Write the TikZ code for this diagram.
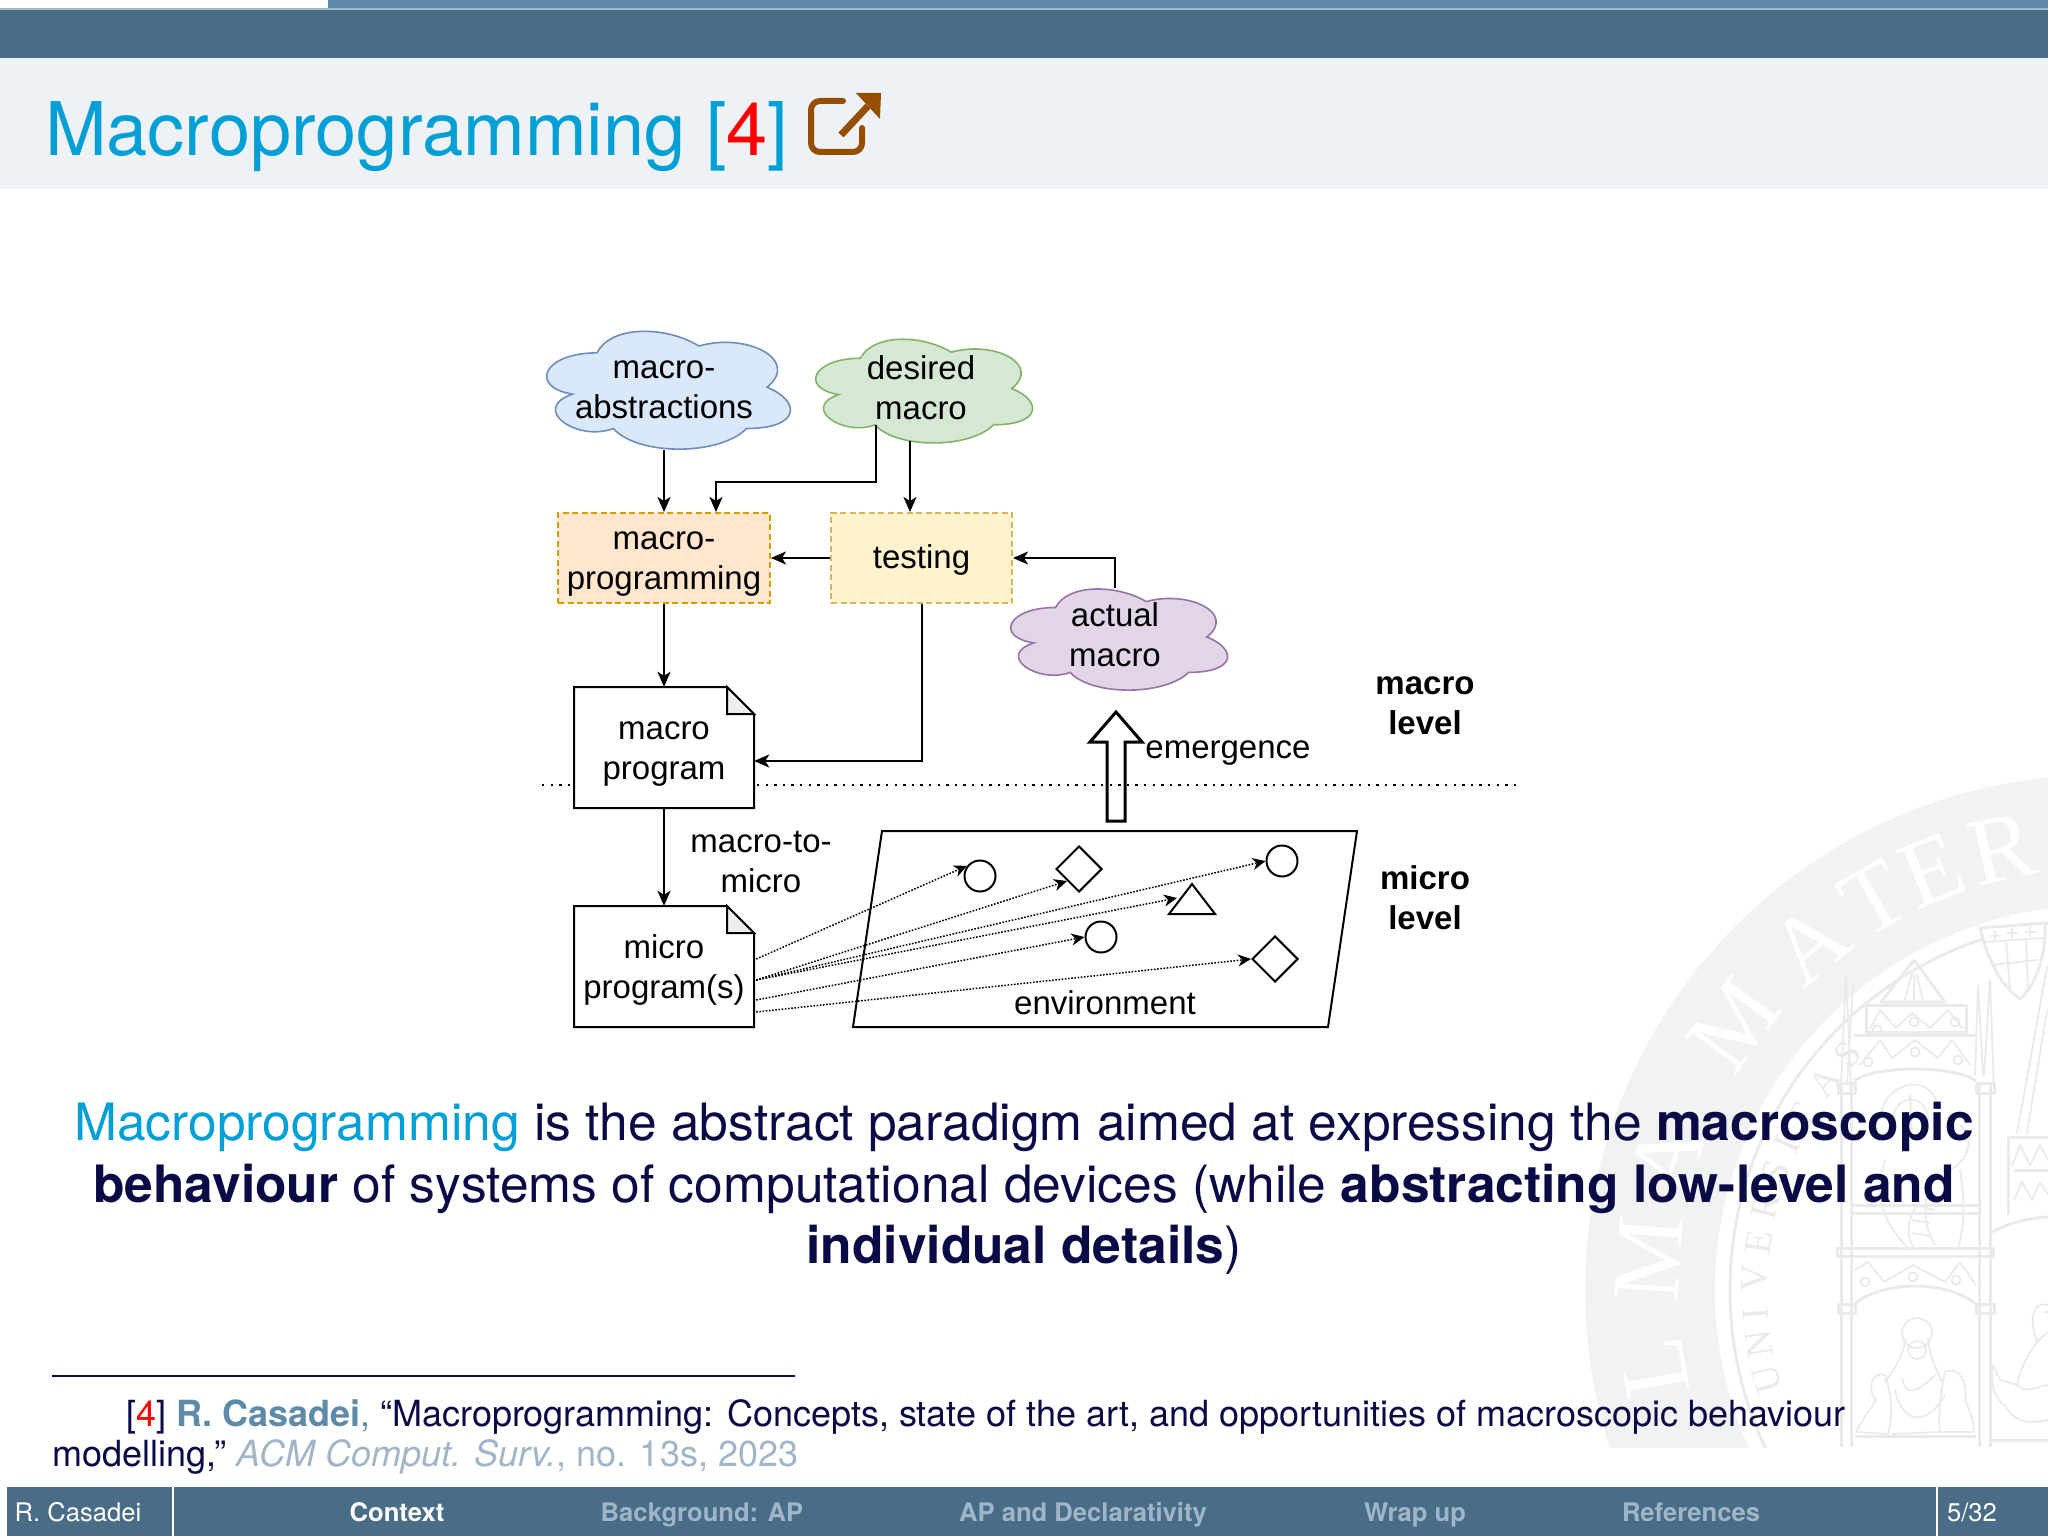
\documentclass[tikz,border=0pt]{standalone}
\usepackage{fontspec}
\setmainfont{TeX Gyre Heros}
\newfontfamily\dio{Liberation Sans}
\newfontfamily\sealf{Liberation Serif}
\usetikzlibrary{arrows.meta,calc,shapes.geometric}
\definecolor{barDark}{HTML}{4A6D87}
\definecolor{barLight}{HTML}{5F8AAB}
\definecolor{titleBg}{HTML}{EEF2F6}
\definecolor{titleBlue}{HTML}{00A0D6}
\definecolor{navy}{HTML}{0A0A46}
\definecolor{authorBlue}{HTML}{5D8AA8}
\definecolor{paleBlue}{HTML}{A0B6C8}
\definecolor{iconBrown}{HTML}{964F00}
\definecolor{sealBand}{HTML}{F1F2F2}
\definecolor{sealLine}{HTML}{E9EAEA}
\definecolor{cloudBlueF}{HTML}{DAE8FC}\definecolor{cloudBlueD}{HTML}{6C8EBF}
\definecolor{cloudGreenF}{HTML}{D5E8D4}\definecolor{cloudGreenD}{HTML}{82B366}
\definecolor{cloudPurpF}{HTML}{E1D5E7}\definecolor{cloudPurpD}{HTML}{9673A6}
\definecolor{boxOrF}{HTML}{FFE6CC}\definecolor{boxOrD}{HTML}{D79B00}
\definecolor{boxYeF}{HTML}{FFF2CC}\definecolor{boxYeD}{HTML}{D6B656}
\tikzset{
  x=1pt,y=-1pt,
  lbl/.style={font=\dio\fontsize{33}{40}\selectfont,align=center,inner sep=0pt,text=black},
  lblb/.style={lbl,font=\dio\bfseries\fontsize{33}{40}\selectfont},
  wire/.style={draw=black,line width=2pt,-{Stealth[length=15pt,width=13pt,inset=4pt]}},
  dotwire/.style={draw=black,line width=1.5pt,dash pattern=on 1.6pt off 1.6pt,-{Stealth[length=13pt,width=12pt,inset=4pt]}},
  shp/.style={draw=black,line width=2pt,fill=white},
  dashbox/.style={inner sep=0pt,line width=2pt,dash pattern=on 6pt off 3.5pt,minimum height=90pt},
  nav/.style={font=\bfseries\fontsize{25.6}{30}\selectfont,anchor=base,inner sep=0pt,text=paleBlue},
  navr/.style={nav,font=\fontsize{25.6}{30}\selectfont,text=white},
  foot/.style={font=\fontsize{36}{41}\selectfont,anchor=base west,inner sep=0pt,text=navy},
  body/.style={font=\fontsize{51.5}{61}\selectfont,anchor=base,inner sep=0pt,text=navy},
  sl/.style={draw=sealLine,line width=3pt,line join=round},
  st/.style={draw=sealLine,line width=1.8pt,line join=round,line cap=round},
}
\newcommand\dcloud[6]{%
  \begin{scope}[shift={(#1,#2)},x=#3pt,y=-#4pt]
  \draw[fill=#5,draw=#6,line width=1.6pt]
   (0.25,0.25) .. controls (0.05,0.25) and (0,0.5) .. (0.16,0.55)
   .. controls (0,0.66) and (0.18,0.9) .. (0.31,0.8)
   .. controls (0.4,1) and (0.7,1) .. (0.8,0.8)
   .. controls (1,0.8) and (1,0.6) .. (0.875,0.5)
   .. controls (1,0.3) and (0.8,0.1) .. (0.625,0.2)
   .. controls (0.5,0.05) and (0.3,0.05) .. (0.25,0.25) -- cycle;
  \end{scope}}
\newcommand\docshape[2]{%
  \draw[shp,line join=miter] (#1,#2) -- (#1+153,#2) -- (#1+180,#2+27) -- (#1+180,#2+121) -- (#1,#2+121) -- cycle;
  \draw[shp,fill=black!7,line join=miter] (#1+153,#2) -- (#1+180,#2+27) -- (#1+153,#2+27) -- cycle;}
\begin{document}
\begin{tikzpicture}
\useasboundingbox (0,0) rectangle (2048,1536);
\fill[white] (0,0) rectangle (2048,1536);
% ---------- seal watermark
\begin{scope}
\clip (1500,700) rectangle (2048,1447);
\fill[sealBand,even odd rule] (2100,1290) circle[radius=515] (2100,1290) circle[radius=385];
\draw[sealLine,line width=3pt] (2100,1290) circle[radius=370];
\foreach \a/\c in {12.5/R,21.8/E,30/T,40/A,54/M,73/A,86/M,100/L}
  \node[text=white,font=\sealf\fontsize{96}{96}\selectfont,rotate=\a,inner sep=0pt] at ({2100-452*sin(\a)},{1290-452*cos(\a)}) {\c};
\foreach \a/\c in {105/U,99/N,94/I,88/V,82/E,76/R,70/S,65/I,60/T,53/A,47/S}
  \node[text=sealLine,font=\sealf\fontsize{38}{38}\selectfont,rotate=\a,inner sep=0pt] at ({2100-345*sin(\a)},{1290-345*cos(\a)}) {\c};
% shield
\draw[sl,fill=white] (1980,928) -- (2045,923) .. controls (2046,960) and (2035,985) .. (2020,999) .. controls (2000,985) and (1988,960) .. (1980,928) -- cycle;
\draw[st] (1985,942) -- (2043,938) (1992,965) -- (2037,960) (2006,940) -- (2010,990) (2026,938) -- (2028,990);
\draw[st] (1990,936)--(2000,936) (1995,931)--(1995,941) (2007,933)--(2017,933) (2012,928)--(2012,938) (2025,932)--(2035,932) (2030,927)--(2030,937);
% left and right columns
\draw[sl] (1841,1085) -- (1841,1447) (1851,1085) -- (1851,1447) (1979,1085) -- (1979,1447) (1990,1085) -- (1990,1447);
\draw[st] (1841,1085) -- (1846,975) -- (1851,1085) (1847,1085) -- (1853,985);
\draw[st] (1975,1075) -- (1978,985) -- (1983,1075) (1984,1075) -- (1990,980) -- (1994,1090);
\draw[sl] (1838,1083) rectangle (1855,1093) (1976,1083) rectangle (1994,1093);
\draw[sl] (1838,1304) rectangle (1855,1313) (1976,1304) rectangle (1994,1313);
\draw[sl] (1837,1248) rectangle (1993,1256);
\draw[sl] (1852,1205) -- (1978,1205) (1852,1213) -- (1978,1213);
\draw[sl] (1854,1081) .. controls (1875,1065) and (1955,1065) .. (1976,1081);
\draw[sl] (1854,1304) .. controls (1885,1280) and (1945,1280) .. (1976,1304);
\draw[sl] (1854,1035) -- (1975,1035) (1866,1005) rectangle (1966,1032);
\draw[sl] (1881,1002) -- (1914,960) -- (1945,1002) -- cycle;
\draw[st] (1905,1000) -- (1912,973) (1914,1000) -- (1914,975) (1923,1000) -- (1916,973);
\draw[st] (1870,1029) -- (1880,1010) -- (1896,1028) -- (1912,1013) -- (1930,1028) -- (1948,1010) -- (1962,1028);
\draw[st] (1860,1065) -- (1880,1040) -- (1892,1058) -- (1915,1040) -- (1938,1058) -- (1952,1040) -- (1970,1065);
\draw[st] (1855,1270) -- (1868,1262) -- (1884,1282) -- (1913,1265) -- (1945,1282) -- (1960,1262) -- (1976,1285);
\foreach \p in {(1877,1030),(1914,1022),(1955,1022),(1868,1062),(1915,1052),(1958,1060),(1865,1282),(1913,1277),(1956,1280)}
  \draw[st] \p circle[radius=4.5];
% right bay
\draw[sl] (1992,1232) .. controls (2010,1222) and (2030,1218) .. (2048,1217);
\draw[sl] (2008,1137) -- (2048,1137) (2008,1137) -- (2008,1215) (2014,1170) -- (2048,1170) (1992,1440) -- (2048,1440);
\draw[st] (2017,1133) -- (2047,967) (2027,1133) -- (2047,1010) (2014,1200) -- (2022,1182) -- (2032,1200) -- (2040,1182) -- (2048,1195);
\draw[st] (2012,1166) -- (2020,1145) -- (2030,1165) -- (2040,1145) -- (2048,1160);
\draw[sl] (1855,1436) -- (1976,1436);
% upper seated figure
\draw[st] (1880,1120) .. controls (1882,1080) and (1935,1070) .. (1938,1110);
\draw[st] (1892,1120) .. controls (1895,1095) and (1925,1090) .. (1928,1120) (1910,1095) -- (1912,1135);
\draw[st] (1960,1125) .. controls (1975,1135) and (1970,1160) .. (1950,1170);
\draw[st] (1885,1160) .. controls (1880,1180) and (1870,1210) .. (1910,1250);
\draw[st] (1915,1208) .. controls (1905,1225) and (1908,1240) .. (1914,1248) (1960,1170) .. controls (1965,1200) and (1965,1225) .. (1958,1248);
\draw[st] (1935,1175) .. controls (1920,1200) and (1925,1230) .. (1935,1245);
\draw[st] (1917,1205) -- (1933,1210) (1913,1220) -- (1930,1223) (1912,1233) -- (1930,1236);
% Madonna group
\draw[st] (1917,1333) circle[radius=15];
\draw[st] (1906,1338) .. controls (1902,1360) and (1890,1375) .. (1885,1382);
\draw[st] (1928,1338) .. controls (1930,1360) and (1938,1372) .. (1942,1382);
\draw[st] (1917,1350) circle[radius=9];
\draw[st] (1902,1378) .. controls (1905,1395) and (1915,1395) .. (1935,1375);
\draw[st] (1895,1390) .. controls (1900,1420) and (1925,1430) .. (1945,1395);
\draw[st] (1885,1375) .. controls (1872,1370) and (1866,1390) .. (1876,1400) .. controls (1870,1410) and (1862,1420) .. (1856,1432) -- (1888,1434) .. controls (1893,1415) and (1892,1395) .. (1885,1375);
\draw[st] (1945,1372) .. controls (1960,1365) and (1968,1385) .. (1965,1400) .. controls (1972,1415) and (1975,1425) .. (1973,1432) -- (1940,1432) .. controls (1938,1415) and (1940,1395) .. (1945,1372);
\draw[st] (1892,1434) -- (1940,1432);
% right figure
\draw[st] (2048,1305) .. controls (2030,1300) and (2030,1325) .. (2037,1340) (2045,1312) -- (2048,1312);
\draw[st] (2048,1332) .. controls (2030,1345) and (2020,1370) .. (2017,1385) .. controls (2025,1395) and (2040,1385) .. (2048,1385);
\draw[st] (1993,1365) -- (2000,1380) -- (2018,1385) (1993,1365) .. controls (1990,1385) and (1995,1400) .. (2005,1405) .. controls (2012,1420) and (2025,1425) .. (2048,1420);
\end{scope}
% ---------- header
\fill[barLight] (328,0) rectangle (2048,8.5);
\fill[barLight!60!white] (0,8.5) rectangle (2048,10);
\fill[barDark] (0,10) rectangle (2048,58);
\fill[titleBg] (0,58) rectangle (2048,189);
\node[font=\fontsize{74}{80}\selectfont,anchor=base west,inner sep=0pt,text=titleBlue] (title) at (45,156) {Macroprogramming [{\color{red}4}]};
\draw[iconBrown,line width=6pt,line cap=round,line join=round,rounded corners=9pt] (843,101) -- (811,101) -- (811,152) -- (862,152) -- (862,128);
\draw[iconBrown,line width=7pt] (841,135) -- (868,106);
\fill[iconBrown] (856,93) -- (881,93) -- (880,119) -- cycle;
% ---------- diagram shapes
\dcloud{529}{318.5}{272}{137.5}{cloudBlueF}{cloudBlueD}
\dcloud{800}{328}{242}{121}{cloudGreenF}{cloudGreenD}
\dcloud{995}{578}{242}{118}{cloudPurpF}{cloudPurpD}
\node[lbl,minimum height=120pt] (macroabs) at (664,390) {macro-\\abstractions};
\node[lbl,minimum height=106pt] (desired) at (921,388) {desired\\macro};
\node[lbl,minimum height=94pt] (actual) at (1115,635) {actual\\macro};
\node[dashbox,fill=boxOrF,draw=boxOrD,minimum width=212pt] (macroprog) at (664,558) {};
\node[dashbox,fill=boxYeF,draw=boxYeD,minimum width=181pt] (testing) at (921.5,558) {};
\node[lbl] (macroprogT) at (664,564.5) {macro-\\programming};
\node[lbl] (testingT) at (921.5,560) {testing};
% dotted level line (behind documents), block arrow
\coordinate (dotL) at (542,785);
\coordinate (dotR) at (1516,785);
\draw[shp,line join=miter,line width=3pt] (1116,712) -- (1142,742) -- (1125,742) -- (1125,821) -- (1107,821) -- (1107,742) -- (1090,742) -- cycle;
\draw[black,line width=2.4pt,dash pattern=on 2.4pt off 6.2pt] (dotL) -- (dotR);
\docshape{574}{687}
\docshape{574}{906}
\node[inner sep=0pt,minimum width=180pt,minimum height=121pt] (macrodoc) at (664,747.5) {};
\node[inner sep=0pt,minimum width=180pt,minimum height=121pt] (microdoc) at (664,966.5) {};
\node[lbl] (macrodocT) at (664,754) {macro\\program};
\node[lbl] (microdocT) at (664,969.5) {micro\\program(s)};
\node[lbl] (m2m) at (761,862) {macro-to-\\micro};
\node[lbl] (emerge) at (1228,753.5) {emergence};
\node[lblb] (mlevel) at (1425,705.5) {macro\\level};
\node[lblb] (ulevel) at (1425,898) {micro\\level};
% environment
\draw[shp] (882,831) -- (1357,831) -- (1328,1027) -- (853,1027) -- cycle;
\node[lbl] (env) at (1105,1003) {environment};
\node[shp,circle,minimum size=31pt,inner sep=0pt] (c1) at (980,876) {};
\node[shp,circle,minimum size=31pt,inner sep=0pt] (c2) at (1282,861) {};
\node[shp,circle,minimum size=31pt,inner sep=0pt] (c3) at (1101,937) {};
\node[shp,diamond,minimum width=46pt,minimum height=46pt,inner sep=0pt] (d1) at (1079,869) {};
\node[shp,diamond,minimum width=46pt,minimum height=46pt,inner sep=0pt] (d2) at (1275,959) {};
\draw[shp] (1192,884) -- (1215,914) -- (1169,914) -- cycle;
\coordinate (tri) at (1177,898);
% connectors
\draw[wire] (macroabs.south -| macroprog.north) -- (macroprog.north);
\draw[wire] ([xshift=-45pt,yshift=16pt]desired.south) |- ([xshift=52pt,yshift=30pt]macroprog.north) -- ([xshift=52pt]macroprog.north);
\draw[wire] ([xshift=-11pt]desired.south) -- ([xshift=-11.5pt]testing.north);
\draw[wire] (testing.west) -- (macroprog.east);
\draw[wire] (actual.north) |- (testing.east);
\draw[wire] (macroprog.south) -- (macrodoc.north);
\draw[wire] (testing.south) |- ([yshift=-13.5pt]macrodoc.east);
\draw[wire] (macrodoc.south) -- (microdoc.north);
\draw[dotwire] ([xshift=2pt,yshift=7.5pt]microdoc.east) -- (c1.142);
\draw[dotwire] ([xshift=2pt,yshift=-13.5pt]microdoc.east) -- (d1.south west);
\draw[dotwire] ([xshift=2pt,yshift=-13.5pt]microdoc.east) -- (c2.west);
\draw[dotwire] ([xshift=2pt,yshift=-13.5pt]microdoc.east) -- (tri);
\draw[dotwire] ([xshift=2pt,yshift=-33.5pt]microdoc.east) -- (c3.west);
\draw[dotwire] ([xshift=2pt,yshift=-45.5pt]microdoc.east) -- (d2.west);
% ---------- body text
\node[body] (b1) at (1024,1140) {{\color{titleBlue}Macroprogramming} is the abstract paradigm aimed at expressing the \textbf{macroscopic}};
\node[body] (b2) at (1024,1202) {\textbf{behaviour} of systems of computational devices (while \textbf{abstracting low-level and}};
\node[body] (b3) at (1024,1263) {\textbf{individual details})};
% ---------- footnote
\draw[navy,line width=2pt] (52,1376) -- (795,1376);
\node[foot] (f1) at (126,1426) {[{\color{red}4}] {\color{authorBlue}\textbf{R. Casadei},} “Macroprogramming: Concepts, state of the art, and opportunities of macroscopic behaviour};
\node[foot] (f2) at (52,1466) {modelling,” {\color{paleBlue}\textit{ACM Comput. Surv.}, no. 13s, 2023}};
% ---------- footer
\fill[barDark] (6.5,1487) rectangle (2048,1536);
\fill[white] (172,1487) rectangle (174,1536);
\fill[white] (1936,1487) rectangle (1938,1536);
\node[navr] (fa) at (78,1521) {R. Casadei};
\node[nav,text=white] (fb) at (397,1521) {Context};
\node[nav] (fc) at (702,1521) {Background: AP};
\node[nav] (fd) at (1083,1521) {AP and Declarativity};
\node[nav] (fe) at (1415,1521) {Wrap up};
\node[nav] (ff) at (1691,1521) {References};
\node[navr] (fg) at (1972,1521) {5/32};
\end{tikzpicture}
\end{document}
